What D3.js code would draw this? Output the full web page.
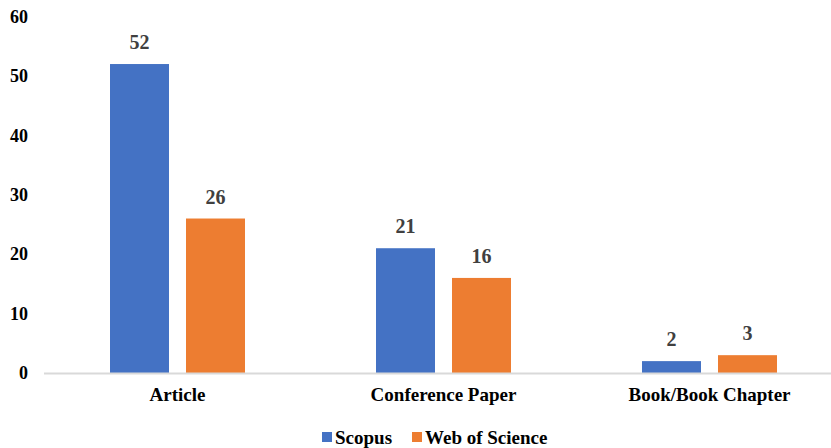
<!DOCTYPE html>
<html>
<head>
<meta charset="utf-8">
<script src="https://cdn.jsdelivr.net/npm/d3@7"></script>
<style>
  html, body { margin: 0; padding: 0; background: #fff; }
  svg { display: block; }
  svg text { font-family: "Liberation Serif", "Times New Roman", serif !important; font-weight: bold; }
</style>
</head>
<body>
<svg id="chart" width="831" height="448"></svg>
<script>
// Document types by database
const categories = ["Article", "Conference Paper", "Book/Book Chapter"];
const seriesNames = ["Scopus", "Web of Science"];
const scopusValues = [52, 21, 2];
const wosValues = [26, 16, 3];
const yTicks = [0, 10, 20, 30, 40, 50, 60];
const colors = ["#4472C4", "#ED7D31"];

const svg = d3.select("#chart");
const y0 = 373;

const x = d3.scaleBand().domain(categories).range([44.5, 842.5]).paddingInner(0).paddingOuter(0);
const xSub = d3.scaleBand().domain(seriesNames).range([0, x.bandwidth()]).paddingInner(17 / 76).paddingOuter(0.862);
const y = d3.scaleLinear().domain([0, 60]).range([y0, 16.5]);

// y axis labels (no line, no ticks)
const yAxis = d3.axisLeft(y).tickValues(yTicks).tickSize(0).tickPadding(0);
const gy = svg.append("g").attr("transform", "translate(28,0)").call(yAxis);
gy.select(".domain").remove();
gy.selectAll("text")
  .attr("font-size", 18)
  .attr("fill", "#000");

// bars
const rows = categories.map((c, i) => ({ cat: c, vals: [scopusValues[i], wosValues[i]] }));
const groups = svg.selectAll("g.cat").data(rows).join("g")
  .attr("class", "cat")
  .attr("transform", d => `translate(${x(d.cat)},0)`);

groups.selectAll("rect").data(d => d.vals.map((v, j) => ({ s: seriesNames[j], v, j })))
  .join("rect")
  .attr("x", d => xSub(d.s))
  .attr("width", xSub.bandwidth())
  .attr("y", d => y(d.v))
  .attr("height", d => y0 - y(d.v))
  .attr("fill", d => colors[d.j]);

// value labels
groups.selectAll("text.val").data(d => d.vals.map((v, j) => ({ s: seriesNames[j], v, j })))
  .join("text")
  .attr("class", "val")
  .attr("x", d => xSub(d.s) + xSub.bandwidth() / 2)
  .attr("y", d => y(d.v) - 15)
  .attr("text-anchor", "middle")
  .attr("font-size", 20)
  .attr("fill", "#404040")
  .text(d => d.v);

// baseline
svg.append("line")
  .attr("x1", 44).attr("x2", 831)
  .attr("y1", y0 + 0.5).attr("y2", y0 + 0.5)
  .attr("stroke", "#d9d9d9").attr("stroke-width", 2);

// category labels
const xAxis = d3.axisBottom(x).tickSize(0).tickPadding(0);
const gx = svg.append("g").attr("transform", `translate(0,${y0 + 14.5})`).call(xAxis);
gx.select(".domain").remove();
gx.selectAll("text")
  .attr("font-size", 19)
  .attr("fill", "#000");

// legend
const legendItems = [{ name: seriesNames[0], x: 322 }, { name: seriesNames[1], x: 412 }];
const lg = svg.selectAll("g.legend").data(legendItems).join("g")
  .attr("class", "legend")
  .attr("transform", d => `translate(${d.x},0)`);
lg.append("rect").attr("x", 0).attr("y", 432).attr("width", 10).attr("height", 10)
  .attr("fill", (d, i) => colors[i]);
lg.append("text").attr("x", 13).attr("y", 443.5)
  .attr("font-size", 19).attr("fill", "#000")
  .text(d => d.name);
</script>
</body>
</html>
